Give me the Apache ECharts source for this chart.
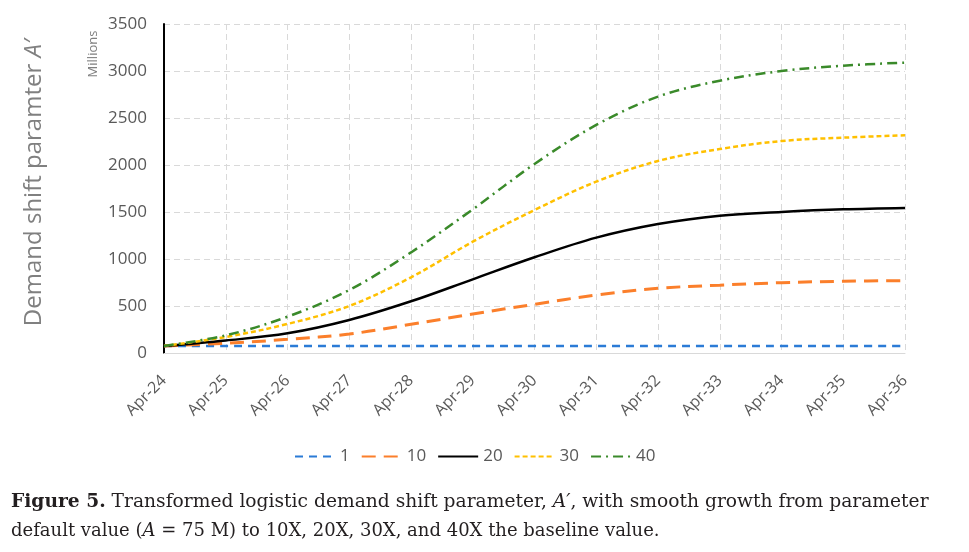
<!DOCTYPE html>
<html>
<head>
<meta charset="utf-8">
<script src="https://cdn.jsdelivr.net/npm/echarts@6/dist/echarts.min.js"></script>
<style>
html,body{margin:0;padding:0;background:#fff;}
#c{width:969px;height:552px;}
</style>
</head>
<body>
<div id="c"></div>
<script>
var categories = ['Apr-24','Apr-25','Apr-26','Apr-27','Apr-28','Apr-29','Apr-30','Apr-31','Apr-32','Apr-33','Apr-34','Apr-35','Apr-36'];
var s1  = [75, 75, 75, 75, 75, 75, 75, 75, 75, 75, 75, 75, 75];
var s10 = [75, 104, 145, 202, 305, 415, 518, 617, 688, 722, 748, 763, 770];
var s20 = [75, 133, 209, 351, 550, 784, 1018, 1227, 1372, 1461, 1500, 1528, 1543];
var s30 = [75, 170, 309, 500, 805, 1184, 1521, 1823, 2043, 2170, 2255, 2291, 2316];
var s40 = [75, 188, 386, 670, 1070, 1528, 2011, 2426, 2727, 2897, 3000, 3057, 3089];
var seriesNames = ['1', '10', '20', '30', '40'];
var yTicks = [0, 500, 1000, 1500, 2000, 2500, 3000, 3500];

var chart = echarts.init(document.getElementById('c'), null, {renderer: 'canvas'});
var gray = '#595959';
function mk(name, data, color, type, width) {
  return {
    name: name, type: 'line', data: data, smooth: 0.35, symbol: 'none', showSymbol: false,
    lineStyle: {color: color, type: type, width: width, cap: 'butt'},
    itemStyle: {color: color}
  };
}
var option = {
  animation: false,
  backgroundColor: '#fff',
  grid: {left: 164, right: 64, top: 24, bottom: 199, containLabel: false},
  xAxis: {
    type: 'category', data: categories, boundaryGap: false,
    axisLine: {lineStyle: {color: '#d9d9d9', width: 1}},
    axisTick: {show: false},
    axisLabel: {rotate: 45, color: gray, fontSize: 16, fontFamily: 'Open Sans', margin: 25, interval: 0},
    splitLine: {show: true, lineStyle: {color: '#d9d9d9', type: [6, 4], width: 1}}
  },
  yAxis: {
    type: 'value', min: yTicks[0], max: yTicks[yTicks.length - 1], interval: 500,
    axisLine: {show: true, lineStyle: {color: '#000', width: 2}},
    axisTick: {show: false},
    axisLabel: {color: gray, fontSize: 17, fontFamily: 'Open Sans', margin: 17,
      formatter: function (v) { return String(v); }},
    splitLine: {show: true, lineStyle: {color: '#d9d9d9', type: [6, 4], width: 1}},
    name: '{t|Demand shift paramter }{i|A′}',
    nameLocation: 'middle', nameGap: 118,
    nameTextStyle: {
      padding: [0, 0, 0, 12],
      rich: {
        t: {fontSize: 24, color: '#808080', fontFamily: 'Open Sans'},
        i: {fontSize: 24, color: '#808080', fontFamily: 'Open Sans', fontStyle: 'italic'}
      }
    }
  },
  legend: {
    bottom: 82, left: 289, itemWidth: 40, itemHeight: 12, itemGap: 11,
    data: seriesNames,
    itemStyle: {opacity: 0},
    textStyle: {color: gray, fontSize: 17, fontFamily: 'Open Sans'}
  },
  series: [
    mk(seriesNames[0], s1, '#2b7bd6', [8, 6], 2.5),
    mk(seriesNames[1], s10, '#fb7f2b', [14, 8], 3),
    mk(seriesNames[2], s20, '#000000', 'solid', 2.5),
    mk(seriesNames[3], s30, '#ffc000', [5, 3], 2.5),
    mk(seriesNames[4], s40, '#3a8a2a', [10, 5, 2, 5], 2.5)
  ],
  graphic: [
    {
      type: 'text', x: 93, y: 54, rotation: Math.PI / 2,
      style: {text: 'Millions', fill: '#808080', fontSize: 13, fontFamily: 'Open Sans', align: 'center', verticalAlign: 'middle'}
    },
    {
      type: 'text', x: 11, y: 502, scaleX: 1.037,
      style: {
        text: '{b|Figure 5.} Transformed logistic demand shift parameter, {i|A′}, with smooth growth from parameter',
        fill: '#231f20', fontSize: 18, fontFamily: 'DejaVu Serif', verticalAlign: 'middle',
        rich: {
          b: {fontWeight: 'bold', fontSize: 18, fontFamily: 'DejaVu Serif', fill: '#231f20'},
          i: {fontStyle: 'italic', fontSize: 18, fontFamily: 'DejaVu Serif', fill: '#231f20'}
        }
      }
    },
    {
      type: 'text', x: 11, y: 531,
      style: {
        text: 'default value ({i|A} = 75 M) to 10X, 20X, 30X, and 40X the baseline value.',
        fill: '#231f20', fontSize: 18, fontFamily: 'DejaVu Serif', verticalAlign: 'middle',
        rich: {
          i: {fontStyle: 'italic', fontSize: 18, fontFamily: 'DejaVu Serif', fill: '#231f20'}
        }
      }
    }
  ]
};
chart.setOption(option);
</script>
</body>
</html>
